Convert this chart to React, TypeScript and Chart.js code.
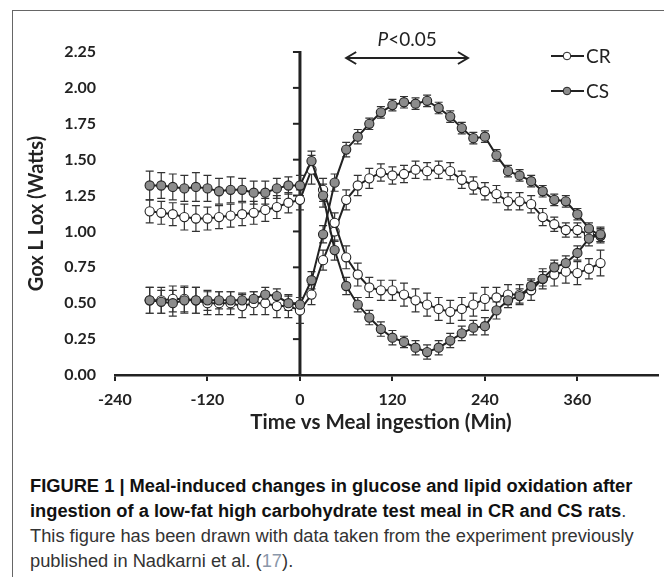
import React, { useEffect, useRef } from "react";
import { Chart, registerables } from "chart.js";

Chart.register(...registerables);

// Time points (min relative to meal ingestion)
const times = [-195, -180, -165, -150, -135, -120, -105, -90, -75, -60, -45, -30, -15, 0,
  15, 30, 45, 60, 75, 90, 105, 120, 135, 150, 165, 180, 195, 210, 225, 240, 255, 270, 285,
  300, 315, 330, 345, 360, 375, 390];

// CS (grey) series
const csLipid = [1.32, 1.32, 1.31, 1.30, 1.31, 1.30, 1.28, 1.29, 1.29, 1.27, 1.27, 1.30, 1.32, 1.32,
  1.49, 1.25, 0.87, 0.62, 0.49, 0.40, 0.32, 0.26, 0.23, 0.19, 0.16, 0.19, 0.24, 0.29, 0.33, 0.34,
  0.45, 0.52, 0.55, 0.62, 0.67, 0.75, 0.78, 0.85, 0.95, 0.98];
const csLipidErr = [0.10, 0.09, 0.09, 0.09, 0.10, 0.09, 0.09, 0.09, 0.08, 0.08, 0.08, 0.07, 0.06, 0.07,
  0.07, 0.08, 0.07, 0.06, 0.05, 0.05, 0.05, 0.05, 0.04, 0.05, 0.05, 0.05, 0.05, 0.05, 0.05, 0.06,
  0.06, 0.05, 0.05, 0.05, 0.05, 0.05, 0.05, 0.05, 0.05, 0.05];
const csGlucose = [0.52, 0.51, 0.50, 0.52, 0.52, 0.52, 0.52, 0.52, 0.52, 0.53, 0.56, 0.55, 0.50, 0.49,
  0.66, 0.98, 1.34, 1.57, 1.66, 1.75, 1.83, 1.88, 1.90, 1.89, 1.91, 1.86, 1.80, 1.72, 1.65, 1.66,
  1.53, 1.42, 1.39, 1.35, 1.28, 1.22, 1.21, 1.12, 1.02, 0.97];
const csGlucoseErr = [0.09, 0.08, 0.09, 0.09, 0.09, 0.07, 0.06, 0.06, 0.05, 0.05, 0.05, 0.05, 0.05, 0.05,
  0.06, 0.06, 0.06, 0.05, 0.05, 0.04, 0.04, 0.04, 0.04, 0.04, 0.04, 0.04, 0.04, 0.04, 0.04, 0.04,
  0.04, 0.04, 0.04, 0.04, 0.04, 0.04, 0.04, 0.04, 0.04, 0.04];

// CR (white) series
const crLipid = [1.14, 1.13, 1.12, 1.10, 1.09, 1.09, 1.10, 1.11, 1.12, 1.13, 1.15, 1.17, 1.20, 1.22,
  1.43, 1.29, 1.06, 0.82, 0.70, 0.61, 0.59, 0.59, 0.56, 0.52, 0.49, 0.46, 0.44, 0.46, 0.49, 0.53,
  0.54, 0.56, 0.56, 0.59, 0.67, 0.70, 0.72, 0.71, 0.74, 0.78];
const crLipidErr = [0.08, 0.08, 0.08, 0.09, 0.09, 0.08, 0.08, 0.08, 0.08, 0.08, 0.08, 0.08, 0.07, 0.07,
  0.10, 0.08, 0.07, 0.08, 0.08, 0.07, 0.07, 0.07, 0.08, 0.08, 0.08, 0.08, 0.08, 0.08, 0.08, 0.08,
  0.07, 0.07, 0.07, 0.07, 0.07, 0.08, 0.08, 0.08, 0.07, 0.09];
const crGlucose = [0.52, 0.52, 0.53, 0.53, 0.52, 0.50, 0.50, 0.50, 0.48, 0.50, 0.50, 0.48, 0.48, 0.45,
  0.56, 0.80, 1.00, 1.22, 1.32, 1.37, 1.41, 1.39, 1.40, 1.43, 1.42, 1.43, 1.42, 1.36, 1.32, 1.28,
  1.26, 1.21, 1.21, 1.19, 1.10, 1.05, 1.01, 1.01, 0.98, 0.97];
const crGlucoseErr = [0.09, 0.09, 0.09, 0.09, 0.09, 0.08, 0.08, 0.08, 0.08, 0.08, 0.08, 0.08, 0.08, 0.09,
  0.07, 0.07, 0.07, 0.07, 0.07, 0.07, 0.06, 0.06, 0.06, 0.06, 0.06, 0.06, 0.06, 0.06, 0.06, 0.06,
  0.06, 0.06, 0.06, 0.06, 0.06, 0.05, 0.05, 0.05, 0.05, 0.05];

const yTicks = [0, 0.25, 0.5, 0.75, 1.0, 1.25, 1.5, 1.75, 2.0, 2.25];
const xTicks = [-240, -120, 0, 120, 240, 360];
const sigStart = 60;
const sigEnd = 218;

const GREY = "#8c8c8c";
const INK = "#222";

const errorSets = [csLipidErr, csGlucoseErr, crLipidErr, crGlucoseErr];

const overlayPlugin = {
  id: "overlay",
  beforeDatasetsDraw(chart: any) {
    const ctx = chart.ctx;
    const xs = chart.scales.x;
    const ys = chart.scales.y;
    ctx.save();
    // y axis line at x = 0
    const x0 = xs.getPixelForValue(0);
    ctx.strokeStyle = INK;
    ctx.lineWidth = 3;
    ctx.beginPath();
    ctx.moveTo(x0, ys.getPixelForValue(2.25) - 1);
    ctx.lineTo(x0, ys.getPixelForValue(0));
    ctx.stroke();
    ctx.lineWidth = 2;
    yTicks.forEach((v) => {
      const y = ys.getPixelForValue(v);
      ctx.beginPath();
      ctx.moveTo(x0 - 7, y);
      ctx.lineTo(x0, y);
      ctx.stroke();
    });
    // error bars
    ctx.strokeStyle = "#333";
    ctx.lineWidth = 1.2;
    chart.data.datasets.forEach((ds: any, di: number) => {
      const errs = errorSets[di];
      ds.data.forEach((p: any, i: number) => {
        const e = errs[i];
        const x = xs.getPixelForValue(p.x);
        const yt = ys.getPixelForValue(p.y + e);
        const yb = ys.getPixelForValue(p.y - e);
        ctx.beginPath();
        ctx.moveTo(x, yt);
        ctx.lineTo(x, yb);
        ctx.moveTo(x - 4, yt);
        ctx.lineTo(x + 4, yt);
        ctx.moveTo(x - 4, yb);
        ctx.lineTo(x + 4, yb);
        ctx.stroke();
      });
    });
    ctx.restore();
  },
  afterDraw(chart: any) {
    const ctx = chart.ctx;
    const xs = chart.scales.x;
    const ys = chart.scales.y;
    ctx.save();
    // legend
    const items = [
      { label: "CR", fill: "#fff", y: 56 },
      { label: "CS", fill: GREY, y: 91 },
    ];
    items.forEach((it) => {
      ctx.strokeStyle = INK;
      ctx.lineWidth = 2;
      ctx.beginPath();
      ctx.moveTo(551, it.y);
      ctx.lineTo(584, it.y);
      ctx.stroke();
      ctx.beginPath();
      ctx.arc(567, it.y, 3.8, 0, Math.PI * 2);
      ctx.fillStyle = it.fill;
      ctx.fill();
      ctx.lineWidth = 1;
      ctx.stroke();
      ctx.fillStyle = INK;
      ctx.font = "19px Lato";
      ctx.textAlign = "left";
      ctx.textBaseline = "middle";
      ctx.fillText(it.label, 586, it.y + 1);
    });
    // significance annotation
    const xa = xs.getPixelForValue(sigStart);
    const xb = xs.getPixelForValue(sigEnd);
    const ya = 58;
    ctx.strokeStyle = INK;
    ctx.lineWidth = 2;
    ctx.beginPath();
    ctx.moveTo(xa, ya);
    ctx.lineTo(xb, ya);
    ctx.moveTo(xa + 10, ya - 6);
    ctx.lineTo(xa, ya);
    ctx.lineTo(xa + 10, ya + 6);
    ctx.moveTo(xb - 10, ya - 6);
    ctx.lineTo(xb, ya);
    ctx.lineTo(xb - 10, ya + 6);
    ctx.stroke();
    const cx = (xa + xb) / 2;
    ctx.fillStyle = INK;
    ctx.textBaseline = "middle";
    ctx.font = "italic 19px Lato";
    const wP = ctx.measureText("P").width;
    ctx.font = "19px Lato";
    const wR = ctx.measureText("<0.05").width;
    const start = cx - (wP + wR) / 2;
    ctx.textAlign = "left";
    ctx.font = "italic 19px Lato";
    ctx.fillText("P", start, 40);
    ctx.font = "19px Lato";
    ctx.fillText("<0.05", start + wP, 40);
    // x axis title
    ctx.font = "bold 20.5px Lato";
    ctx.textAlign = "center";
    ctx.fillText("Time vs Meal ingestion (Min)", 381, ys.bottom + 47);
    ctx.restore();
  },
};

function toPoints(vals: number[]) {
  return times.map((t, i) => ({ x: t, y: vals[i] }));
}

export default function App() {
  const ref = useRef<HTMLCanvasElement>(null);

  useEffect(() => {
    if (!ref.current) return;
    const common = {
      borderColor: INK,
      borderWidth: 2,
      pointRadius: 4.6,
      pointBorderColor: INK,
      pointBorderWidth: 1.1,
      tension: 0,
      fill: false,
    };
    const chart = new Chart(ref.current, {
      type: "line",
      data: {
        datasets: [
          { ...common, label: "CS lipid", data: toPoints(csLipid), pointBackgroundColor: GREY },
          { ...common, label: "CS glucose", data: toPoints(csGlucose), pointBackgroundColor: GREY },
          { ...common, label: "CR lipid", data: toPoints(crLipid), pointBackgroundColor: "#fff" },
          { ...common, label: "CR glucose", data: toPoints(crGlucose), pointBackgroundColor: "#fff" },
        ],
      },
      options: {
        responsive: false,
        animation: false,
        events: [],
        layout: { padding: { top: 52, right: 3, left: 0, bottom: 0 } },
        plugins: { legend: { display: false }, tooltip: { enabled: false } },
        scales: {
          x: {
            type: "linear",
            min: -240,
            max: 465,
            afterFit: (s: any) => { s.height = 70; },
            afterBuildTicks: (s: any) => { s.ticks = xTicks.map((v) => ({ value: v })); },
            border: { display: true, color: INK, width: 2.5 },
            grid: { display: true, drawOnChartArea: false, drawTicks: true, tickLength: 6, color: INK, lineWidth: 2 },
            ticks: {
              padding: 9,
              color: INK,
              font: { family: "Lato", size: 16, weight: "bold" },
              maxRotation: 0,
            },
            title: { display: false },
          },
          y: {
            type: "linear",
            min: 0,
            max: 2.25,
            afterFit: (s: any) => { s.width = 115; },
            afterBuildTicks: (s: any) => { s.ticks = yTicks.map((v) => ({ value: v })); },
            border: { display: false },
            grid: { display: false, drawTicks: false },
            ticks: {
              padding: 19,
              color: INK,
              font: { family: "Lato", size: 16, weight: "bold" },
              callback: (v: any) => Number(v).toFixed(2),
            },
            title: {
              display: true,
              text: "Gox L Lox (Watts)",
              color: INK,
              font: { family: "Lato", size: 20, weight: "bold" },
              padding: { top: 25, bottom: 0 },
            },
          },
        },
      },
      plugins: [overlayPlugin],
    } as any);
    return () => chart.destroy();
  }, []);

  return (
    <div
      style={{
        position: "absolute",
        left: 0,
        top: 0,
        width: 664,
        height: 577,
        background: "#fff",
        overflow: "hidden",
      }}
    >
      <div style={{ position: "absolute", left: 12, top: 10, width: 652, height: 1, background: "#666" }} />
      <div style={{ position: "absolute", left: 12, top: 10, width: 1, height: 567, background: "#666" }} />
      <canvas
        ref={ref}
        width={664}
        height={445}
        style={{ position: "absolute", left: 0, top: 0, width: 664, height: 445, display: "block" }}
      />
      <div
        style={{
          position: "absolute",
          left: 30,
          top: 473,
          whiteSpace: "nowrap",
          fontFamily: "'Liberation Sans', Arial, sans-serif",
          fontSize: 18.3,
          lineHeight: "25px",
          color: "#333",
        }}
      >
        <span style={{ fontWeight: "bold", color: "#111" }}>
          FIGURE 1 | Meal-induced changes in glucose and lipid oxidation after
          <br />
          ingestion of a low-fat high carbohydrate test meal in CR and CS rats
        </span>
        .
        <br />
        This figure has been drawn with data taken from the experiment previously
        <br />
        published in Nadkarni et al. (<span style={{ color: "#8a97aa" }}>17</span>).
      </div>
    </div>
  );
}
